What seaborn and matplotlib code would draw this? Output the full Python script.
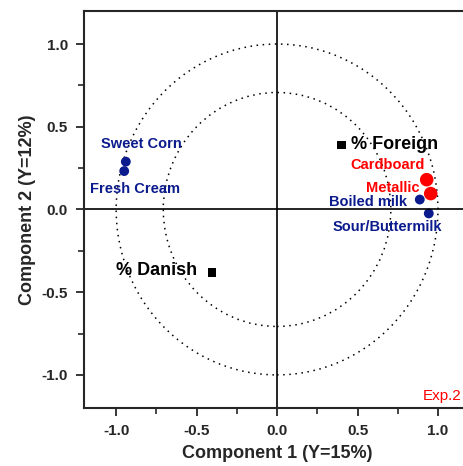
import numpy as np
import pandas as pd
import seaborn as sns
import matplotlib.pyplot as plt
from matplotlib.patches import Ellipse
from matplotlib.ticker import MultipleLocator

# loadings
names = ['Sweet Corn', 'Fresh Cream', 'Cardboard', 'Metallic', 'Boiled milk', 'Sour/Buttermilk', '% Foreign', '% Danish']
comp1 = [-0.94, -0.95, 0.93, 0.955, 0.887, 0.943, 0.40, -0.405]
comp2 = [0.289, 0.232, 0.18, 0.096, 0.06, -0.024, 0.39, -0.38]
group = ['blue', 'blue', 'red', 'red', 'blue', 'blue', 'origin', 'origin']

df = pd.DataFrame({'name': names, 'c1': comp1, 'c2': comp2, 'group': group})

sns.set_style('ticks')
plt.rcParams['font.family'] = ['Liberation Sans', 'DejaVu Sans']

navy = '#0b1a8c'
colors = {'blue': navy, 'red': '#ff0000', 'origin': 'black'}

fig = plt.figure(figsize=(4.63, 4.66), dpi=100)
ax = fig.add_axes([0.1814, 0.1245, 0.834, 0.852])

# circles r=1 and r=sqrt(0.5)
for r in [1.0, np.sqrt(0.5)]:
    ax.add_patch(Ellipse((0, 0), 2 * r, 2 * r, fill=False, ls=(0, (1, 3)), lw=1.1, color='black'))
ax.axhline(0, color='black', lw=1.2)
ax.axvline(0, color='black', lw=1.2)

sns.scatterplot(data=df[df.group == 'blue'], x='c1', y='c2', color=navy, s=50, edgecolor='none', ax=ax)
sns.scatterplot(data=df[df.group == 'red'], x='c1', y='c2', color='#ff0000', s=95, edgecolor='none', ax=ax)
sns.scatterplot(data=df[df.group == 'origin'], x='c1', y='c2', color='black', marker='s', s=38, edgecolor='none', ax=ax)

# label offsets in pixels (dx, dy, ha)
offs = {
    'Sweet Corn': (16, 18, 'center'),
    'Fresh Cream': (11, -18, 'center'),
    'Cardboard': (-39, 15, 'center'),
    'Metallic': (-38, 6, 'center'),
    'Boiled milk': (-52, -2, 'center'),
    'Sour/Buttermilk': (-41, -14, 'center'),
    '% Foreign': (10, 0, 'left'),
    '% Danish': (-15, 2, 'right'),
}
for n, x, y, g in zip(names, comp1, comp2, group):
    dx, dy, ha = offs[n]
    fs = 13 if g == 'origin' else 10.5
    ax.annotate(n, (x, y), xytext=(dx, dy), textcoords='offset pixels', ha=ha, va='center',
                fontsize=fs, fontweight='bold', color=colors[g])

ax.text(0.905, -1.13, 'Exp.2', color='#ff0000', fontsize=11, ha='left', va='center')

ax.set_xlim(-1.2, 1.2)
ax.set_ylim(-1.2, 1.2)
ax.xaxis.set_minor_locator(MultipleLocator(0.25))
ax.yaxis.set_minor_locator(MultipleLocator(0.25))
ax.set_xticks([-1.0, -0.5, 0.0, 0.5, 1.0])
ax.set_yticks([-1.0, -0.5, 0.0, 0.5, 1.0])
ax.set_xticklabels(['-1.0', '-0.5', '0.0', '0.5', '1.0'])
ax.set_yticklabels(['-1.0', '-0.5', '0.0', '0.5', '1.0'])
ax.tick_params(which='major', direction='out', length=5.5, width=1.3, labelsize=11, pad=6)
ax.tick_params(which='minor', direction='out', length=4, width=1.2)
for lab in ax.get_xticklabels() + ax.get_yticklabels():
    lab.set_fontweight('bold')
for sp in ax.spines.values():
    sp.set_linewidth(1.5)
    sp.set_visible(True)

ax.set_xlabel('Component 1 (Y=15%)', fontsize=13, fontweight='bold', labelpad=5)
ax.set_ylabel('Component 2 (Y=12%)', fontsize=13, fontweight='bold', labelpad=4)

fig.savefig('out.png', dpi=100)
